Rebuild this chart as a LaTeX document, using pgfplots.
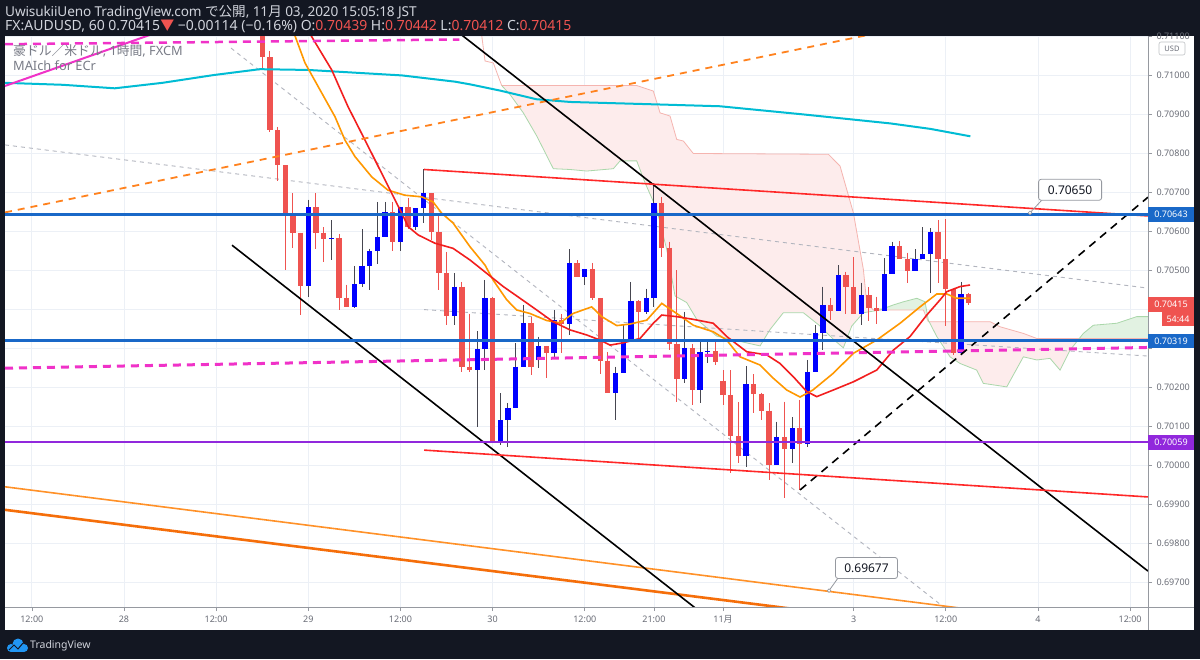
\documentclass[border=0pt]{standalone}
\usepackage{pgfplots}
\pgfplotsset{compat=1.18}
\usepackage{pgfplotstable}
\usepackage{fontspec}
\setmainfont{Noto Sans}
\newfontfamily\cjk{Noto Sans CJK JP}
\definecolor{bgdark}{RGB}{19,23,34}
\definecolor{hdr}{RGB}{209,212,220}
\definecolor{tvred}{RGB}{239,83,80}
\definecolor{bullblue}{RGB}{0,0,255}
\definecolor{bullwick}{RGB}{70,70,80}
\definecolor{gridc}{RGB}{236,240,246}
\definecolor{axisc}{RGB}{150,153,160}
\definecolor{ticktxt}{RGB}{105,108,118}
\definecolor{cyanma}{RGB}{0,188,212}
\definecolor{orangema}{RGB}{255,152,0}
\definecolor{redma}{RGB}{242,30,30}
\definecolor{trendred}{RGB}{255,40,40}
\definecolor{hblue}{RGB}{25,104,200}
\definecolor{hpurple}{RGB}{145,40,220}
\definecolor{magent}{RGB}{240,50,200}
\definecolor{orngdash}{RGB}{255,130,30}
\definecolor{orng1}{RGB}{255,145,40}
\definecolor{orng2}{RGB}{245,110,10}
\definecolor{grayd}{RGB}{178,181,190}
\definecolor{cloudpink}{RGB}{253,236,236}
\definecolor{cloudgreen}{RGB}{226,242,226}
\definecolor{spanB}{RGB}{245,180,175}
\definecolor{spanA}{RGB}{170,215,170}
\definecolor{legtxt}{RGB}{120,123,134}
\definecolor{tvlogo}{RGB}{33,150,243}

\pgfplotstableread{
i O H L C
30 0.71160 0.71200 0.71015 0.71045
31 0.71045 0.71062 0.70855 0.70859
32 0.70859 0.70867 0.70729 0.70769
33 0.70769 0.70769 0.70500 0.70647
34 0.70647 0.70697 0.70558 0.70596
35 0.70596 0.70596 0.70385 0.70459
37 0.70661 0.70697 0.70553 0.70596
38 0.70596 0.70610 0.70520 0.70579
40 0.70582 0.70593 0.70398 0.70430
41 0.70430 0.70463 0.70406 0.70406
47 0.70649 0.70675 0.70548 0.70571
49 0.70662 0.70685 0.70605 0.70611
52 0.70698 0.70698 0.70577 0.70598
53 0.70598 0.70641 0.70449 0.70492
54 0.70492 0.70547 0.70359 0.70383
56 0.70458 0.70470 0.70240 0.70253
57 0.70253 0.70389 0.70240 0.70244
60 0.70428 0.70432 0.70056 0.70061
65 0.70364 0.70381 0.70231 0.70253
67 0.70306 0.70306 0.70223 0.70287
69 0.70372 0.70388 0.70289 0.70362
71 0.70519 0.70526 0.70483 0.70483
73 0.70502 0.70519 0.70423 0.70429
74 0.70429 0.70429 0.70234 0.70268
75 0.70268 0.70291 0.70186 0.70186
79 0.70422 0.70423 0.70323 0.70394
82 0.70671 0.70688 0.70533 0.70558
83 0.70558 0.70573 0.70295 0.70311
84 0.70311 0.70500 0.70163 0.70220
86 0.70301 0.70312 0.70155 0.70193
89 0.70292 0.70323 0.70257 0.70265
90 0.70217 0.70244 0.70155 0.70180
91 0.70180 0.70244 0.69980 0.70075
92 0.70075 0.70161 0.70005 0.70024
94 0.70208 0.70234 0.70133 0.70183
95 0.70183 0.70186 0.70116 0.70140
96 0.70140 0.70159 0.69962 0.70001
98 0.70073 0.70163 0.69916 0.70041
100 0.70095 0.70167 0.69937 0.70055
104 0.70411 0.70428 0.70372 0.70395
106 0.70488 0.70496 0.70389 0.70456
107 0.70456 0.70534 0.70389 0.70389
109 0.70436 0.70456 0.70370 0.70402
110 0.70402 0.70432 0.70362 0.70396
113 0.70562 0.70575 0.70528 0.70528
114 0.70528 0.70545 0.70468 0.70499
118 0.70598 0.70628 0.70466 0.70528
119 0.70528 0.70630 0.70357 0.70453
120 0.70453 0.70453 0.70283 0.70289
122 0.70439 0.70442 0.70412 0.70415
}\bear

\pgfplotstableread{
i O H L C
36 0.70459 0.70681 0.70432 0.70661
39 0.70579 0.70628 0.70526 0.70582
42 0.70406 0.70511 0.70404 0.70464
43 0.70464 0.70605 0.70458 0.70511
44 0.70511 0.70555 0.70449 0.70548
45 0.70548 0.70675 0.70516 0.70584
46 0.70584 0.70675 0.70584 0.70649
48 0.70571 0.70662 0.70548 0.70662
50 0.70611 0.70659 0.70603 0.70659
51 0.70659 0.70758 0.70620 0.70698
55 0.70383 0.70492 0.70359 0.70458
58 0.70244 0.70344 0.70099 0.70297
59 0.70297 0.70475 0.70244 0.70428
61 0.70061 0.70185 0.70052 0.70116
62 0.70116 0.70160 0.70048 0.70146
63 0.70146 0.70313 0.70146 0.70253
64 0.70253 0.70411 0.70253 0.70364
66 0.70270 0.70330 0.70249 0.70306
68 0.70287 0.70398 0.70274 0.70372
70 0.70362 0.70553 0.70334 0.70519
72 0.70483 0.70502 0.70462 0.70502
76 0.70186 0.70253 0.70116 0.70237
77 0.70237 0.70359 0.70237 0.70321
78 0.70321 0.70470 0.70321 0.70422
80 0.70394 0.70453 0.70389 0.70429
81 0.70429 0.70723 0.70406 0.70671
85 0.70220 0.70394 0.70210 0.70301
87 0.70193 0.70321 0.70159 0.70291
88 0.70291 0.70323 0.70263 0.70292
93 0.70024 0.70254 0.69996 0.70208
97 0.70001 0.70112 0.70001 0.70073
99 0.70041 0.70123 0.70005 0.70095
101 0.70055 0.70270 0.70048 0.70240
102 0.70240 0.70359 0.70240 0.70338
103 0.70338 0.70458 0.70295 0.70411
105 0.70395 0.70513 0.70395 0.70488
108 0.70389 0.70468 0.70359 0.70436
111 0.70396 0.70530 0.70396 0.70490
112 0.70490 0.70573 0.70490 0.70562
115 0.70499 0.70553 0.70499 0.70528
116 0.70528 0.70610 0.70528 0.70541
117 0.70541 0.70607 0.70441 0.70598
121 0.70289 0.70470 0.70283 0.70439
}\bull

\begin{document}
\begin{tikzpicture}
% background
\fill[bgdark] (0pt,0pt) rectangle (1200pt,-659pt);
\fill[white] (5pt,-36pt) rectangle (1194pt,-630pt);

\begin{axis}[
  at={(5pt,-607pt)}, anchor=south west,
  scale only axis, width=1143pt, height=571pt,
  xmin=-3.49, xmax=145.33, ymin=0.69637, ymax=0.71100,
  axis line style={draw=none},
  xtick pos=bottom, ytick pos=right, yticklabel pos=right,
  tick align=outside, major tick length=4pt,
  tick style={draw=axisc, line width=0.6pt},
  xtick={0,12,24,36,48,60,72,81,90,107,119,131,143},
  xticklabels={12:00,28,12:00,29,12:00,30,12:00,21:00,11{\cjk 月},3,12:00,4,12:00},
  ytick={0.697,0.698,0.699,0.700,0.701,0.702,0.703,0.704,0.705,0.706,0.707,0.708,0.709,0.710,0.711},
  yticklabels={0.69700,0.69800,0.69900,0.70000,0.70100,0.70200,,,0.70500,0.70600,0.70700,0.70800,0.70900,0.71000,0.71100},
  yticklabel style={font=\fontsize{9}{11}\selectfont, text=ticktxt, xshift=1pt},
  xticklabel style={font=\fontsize{9}{11}\selectfont, text=ticktxt, yshift=-1pt},
  grid=major, major grid style={draw=gridc, line width=0.8pt},
  clip=true,
]
% ---- Ichimoku cloud fills
\addplot[fill=cloudpink, draw=none, forget plot] coordinates {
(61.18,0.70973) (78.76,0.70973) (80.92,0.70959) (81.80,0.70903) (83.10,0.70895) (83.97,0.70835) (84.83,0.70831) (86.13,0.70799) (103.71,0.70797) (105.23,0.70767) (106.97,0.70647) (108.27,0.70502) (108.71,0.70416) (109.57,0.70398)
(108.27,0.70391) (106.76,0.70357) (105.66,0.70301) (104.36,0.70323) (102.63,0.70357) (100.46,0.70391) (97.85,0.70391) (96.12,0.70348) (94.82,0.70306) (89.18,0.70331) (86.58,0.70374) (85.27,0.70417) (83.75,0.70434) (82.67,0.70553) (81.37,0.70656) (79.84,0.70724) (78.76,0.70780) (76.59,0.70780) (75.72,0.70760) (72.25,0.70754) (70.08,0.70758) (67.90,0.70760) (65.74,0.70844) (64.00,0.70903) (62.27,0.70950)
} -- cycle;
\addplot[fill=cloudgreen, draw=none, forget plot] coordinates {
(109.57,0.70398) (112.18,0.70411) (113.48,0.70419) (115.23,0.70428) (116.30,0.70419) (116.6,0.70385) (116.08,0.70398)
} -- cycle;
\addplot[fill=cloudpink, draw=none, forget plot] coordinates {
(116.6,0.70385) (116.73,0.70368) (124.77,0.70368) (126.07,0.70355) (129.10,0.70338) (130.85,0.70325) (136.4,0.70325)
(135.18,0.70295) (133.88,0.70244) (132.58,0.70274) (130.85,0.70270) (129.10,0.70278) (126.94,0.70201) (123.89,0.70210) (123.03,0.70244) (120.86,0.70261) (119.56,0.70278) (117.83,0.70330) (116.73,0.70372)
} -- cycle;
\addplot[fill=cloudgreen, draw=none, forget plot] coordinates {
(136.4,0.70325) (136.91,0.70338) (138.22,0.70359) (141.26,0.70364) (143.87,0.70381) (145.34,0.70381) (145.34,0.70325)
} -- cycle;
% span B
\addplot[spanB, line width=0.8pt, forget plot] coordinates {
(58.49,0.71115) (59.01,0.71036) (60.09,0.71031) (61.18,0.70973) (78.76,0.70973) (80.92,0.70959) (81.80,0.70903) (83.10,0.70895) (83.97,0.70835) (84.83,0.70831) (86.13,0.70799) (103.71,0.70797) (105.23,0.70767) (106.97,0.70647) (108.27,0.70502) (108.71,0.70416) (109.57,0.70398) (116.08,0.70398) (116.73,0.70368) (124.77,0.70368) (126.07,0.70355) (129.10,0.70338) (130.85,0.70325) (145.34,0.70325)
};
% span A
\addplot[spanA, line width=0.8pt, forget plot] coordinates {
(61.18,0.70973) (62.27,0.70950) (64.00,0.70903) (65.74,0.70844) (67.90,0.70760) (70.08,0.70758) (72.25,0.70754) (75.72,0.70760) (76.59,0.70780) (78.76,0.70780) (79.84,0.70724) (81.37,0.70656) (82.67,0.70553) (83.75,0.70434) (85.27,0.70417) (86.58,0.70374) (89.18,0.70331) (94.82,0.70306) (96.12,0.70348) (97.85,0.70391) (100.46,0.70391) (102.63,0.70357) (104.36,0.70323) (105.66,0.70301) (106.76,0.70357) (108.27,0.70391) (110.44,0.70398) (112.18,0.70411) (113.48,0.70419) (115.23,0.70428) (116.30,0.70419) (116.73,0.70372) (117.83,0.70330) (119.56,0.70278) (120.86,0.70261) (123.03,0.70244) (123.89,0.70210) (126.94,0.70201) (129.10,0.70278) (130.85,0.70270) (132.58,0.70274) (133.88,0.70244) (135.18,0.70295) (136.91,0.70338) (138.22,0.70359) (141.26,0.70364) (143.87,0.70381) (145.34,0.70381)
};
% gray dashed lines
\addplot[grayd, line width=0.9pt, dash pattern=on 4pt off 4pt, forget plot] coordinates {(25.94,0.71069) (119.5,0.69625)};
\addplot[grayd, line width=0.9pt, dash pattern=on 4pt off 4pt, forget plot] coordinates {(-3.49,0.70821) (145.33,0.70454)};
\addplot[grayd, line width=0.9pt, dash pattern=on 4pt off 4pt, forget plot] coordinates {(51.07,0.70399) (145.33,0.70280)};

% ---- candles: wicks
\addplot[forget plot, draw=none, mark=none, error bars/.cd, y dir=minus, y explicit, error mark=none,
  error bar style={line width=1pt, draw=tvred, solid}]
  table[x=i, y=H, y error minus expr=\thisrow{H}-\thisrow{L}] {\bear};
\addplot[forget plot, draw=none, mark=none, error bars/.cd, y dir=minus, y explicit, error mark=none,
  error bar style={line width=1pt, draw=bullwick, solid}]
  table[x=i, y=H, y error minus expr=\thisrow{H}-\thisrow{L}] {\bull};
% bodies
\addplot[forget plot, draw=none, mark=none, error bars/.cd, y dir=minus, y explicit, error mark=none,
  error bar style={line width=5.3pt, draw=tvred, solid}]
  table[x=i, y=O, y error minus expr=\thisrow{O}-\thisrow{C}] {\bear};
\addplot[forget plot, draw=none, mark=none, error bars/.cd, y dir=minus, y explicit, error mark=none,
  error bar style={line width=5.3pt, draw=bullblue, solid}]
  table[x=i, y=C, y error minus expr=\thisrow{C}-\thisrow{O}] {\bull};

% ---- moving averages
\addplot[cyanma, line width=2pt, forget plot] coordinates {
(-3.49,0.70980) (4,0.70975) (10.8,0.70966) (17,0.70980) (23.7,0.71000) (29.7,0.71015) (36,0.71013) (48.2,0.70999) (55.1,0.70983) (57.1,0.70976) (61,0.70960) (65.7,0.70938) (70.1,0.70931) (80.9,0.70925) (89.6,0.70920) (100.5,0.70899) (111.8,0.70876) (117,0.70862) (122.2,0.70843)
};
\addplot[orangema, line width=1.6pt, forget plot] coordinates {
(33.9,0.71120) (35.57,0.71031) (37.75,0.70954) (39.48,0.70893) (40.78,0.70833) (42.08,0.70791) (44.26,0.70739) (46.38,0.70705) (48.59,0.70692) (50.77,0.70688) (52.24,0.70675) (53.37,0.70646) (54.84,0.70621) (57.06,0.70560) (59.01,0.70513) (60.05,0.70475) (61.84,0.70424) (63.14,0.70398) (64.87,0.70389) (67.04,0.70371) (68.78,0.70365) (70.47,0.70389) (72.9,0.70406) (74.2,0.70381) (76.16,0.70358) (77.9,0.70362) (80.07,0.70372) (82.02,0.70415) (83.97,0.70389) (86.13,0.70359) (88.74,0.70342) (90.48,0.70321) (92.21,0.70278) (94.82,0.70257) (96.55,0.70223) (98.29,0.70193) (100.03,0.70175) (101.7,0.70193) (104.36,0.70236) (106.97,0.70287) (110.01,0.70321) (113.05,0.70364) (115.65,0.70406) (117.83,0.70439) (119.13,0.70439) (120.43,0.70428) (122.16,0.70428)
};
\addplot[redma, line width=1.6pt, forget plot] coordinates {
(35.7,0.71128) (36.45,0.71098) (39.05,0.71013) (41.17,0.70919) (43.39,0.70833) (45.56,0.70748) (47.29,0.70680) (48.17,0.70646) (49.02,0.70611) (50.33,0.70590) (52.5,0.70569) (54.84,0.70556) (57.06,0.70526) (59.23,0.70492) (61.39,0.70458) (63.57,0.70428) (65.74,0.70398) (67.86,0.70368) (70.08,0.70347) (72.25,0.70334) (73.98,0.70321) (75.29,0.70308) (77.02,0.70314) (79.19,0.70325) (80.92,0.70364) (82.02,0.70385) (83.97,0.70381) (86.13,0.70374) (88.74,0.70364) (90.48,0.70330) (93.09,0.70291) (95.69,0.70283) (97.42,0.70261) (99.15,0.70227) (100.9,0.70189) (102.2,0.70176) (104.36,0.70193) (106.97,0.70214) (110.01,0.70244) (112.17,0.70295) (114.35,0.70330) (116.52,0.70385) (118.26,0.70424) (119.13,0.70445) (120.86,0.70458) (122.16,0.70462)
};

% ---- drawings
\addplot[magent, line width=2pt, forget plot] coordinates {(-3.49,0.70972) (18.0,0.71121)};
\addplot[magent, line width=2.5pt, dash pattern=on 8pt off 6pt, forget plot] coordinates {(-3.49,0.71079) (55.66,0.71091)};
\addplot[magent, line width=3pt, dash pattern=on 8pt off 6pt, forget plot] coordinates {(-3.49,0.70249) (145.33,0.70302)};
\addplot[orngdash, line width=1.8pt, dash pattern=on 7pt off 6pt, forget plot] coordinates {(-3.49,0.70648) (110.45,0.71109)};
\addplot[orng1, line width=1.6pt, forget plot] coordinates {(-3.49,0.69945) (122.2,0.69631)};
\addplot[orng2, line width=2.6pt, forget plot] coordinates {(-3.49,0.69886) (100.03,0.69630)};
\addplot[black, line width=1.6pt, forget plot] coordinates {(26.07,0.70564) (87.0,0.69625)};
\addplot[black, line width=1.6pt, forget plot] coordinates {(55.1,0.71116) (145.33,0.69729)};
\addplot[black, line width=1.6pt, dash pattern=on 8pt off 6pt, forget plot] coordinates {(100.03,0.69937) (145.33,0.70687)};
\addplot[trendred, line width=1.6pt, forget plot] coordinates {(51.07,0.70758) (145.33,0.70639)};
\addplot[trendred, line width=1.6pt, forget plot] coordinates {(51.07,0.70039) (145.33,0.69919)};
\addplot[hblue, line width=3pt, forget plot] coordinates {(-3.49,0.70643) (145.33,0.70643)};
\addplot[hblue, line width=3pt, forget plot] coordinates {(-3.49,0.70319) (145.33,0.70319)};
\addplot[hpurple, line width=2pt, forget plot] coordinates {(-3.49,0.70059) (145.33,0.70059)};

% ---- callouts
\draw[axisc, line width=0.8pt] (axis cs:129.97,0.70647) -- (axis cs:131.53,0.70680);
\draw[axisc, fill=white, line width=0.6pt] (axis cs:129.97,0.70647) circle (1.8pt);
\node[draw=axisc, fill=white, rounded corners=2.5pt, line width=0.8pt, minimum width=63pt, minimum height=21pt, inner sep=0pt, font=\fontsize{12}{14}\selectfont, text=bgdark] at (axis cs:135.19,0.70706) {0.70650};
\draw[axisc, line width=0.8pt] (axis cs:103.8,0.69679) -- (axis cs:105.0,0.69712);
\draw[axisc, fill=white, line width=0.6pt] (axis cs:103.8,0.69679) circle (1.8pt);
\node[draw=axisc, fill=white, rounded corners=2.5pt, line width=0.8pt, minimum width=62pt, minimum height=21pt, inner sep=0pt, font=\fontsize{12}{14}\selectfont, text=bgdark] at (axis cs:108.68,0.69737) {0.69677};
\end{axis}

% axis lines
\draw[axisc, line width=0.8pt] (5pt,-607pt) -- (1194pt,-607pt);
\draw[axisc, line width=0.8pt] (1148pt,-36pt) -- (1148pt,-630pt);

% price tags
\fill[hblue] (1148pt,-207pt) rectangle (1194pt,-221.6pt);
\node[text=white, font=\fontsize{9}{11}\selectfont, inner sep=0pt] at (1171pt,-214.3pt) {0.70643};
\fill[tvred] (1148pt,-297pt) rectangle (1194pt,-311.6pt);
\node[text=white, font=\fontsize{9}{11}\selectfont, inner sep=0pt] at (1171pt,-304.3pt) {0.70415};
\fill[tvred] (1162pt,-312.4pt) rectangle (1194pt,-325.5pt);
\node[text=white, font=\fontsize{9}{11}\selectfont, inner sep=0pt] at (1178pt,-319pt) {54:44};
\fill[hblue] (1148pt,-333.7pt) rectangle (1194pt,-348.3pt);
\node[text=white, font=\fontsize{9}{11}\selectfont, inner sep=0pt] at (1171pt,-341pt) {0.70319};
\fill[hpurple] (1148pt,-435pt) rectangle (1194pt,-449.6pt);
\node[text=white, font=\fontsize{9}{11}\selectfont, inner sep=0pt] at (1171pt,-442.3pt) {0.70059};
% USD
\draw[axisc!60, rounded corners=2pt, line width=0.6pt] (1159pt,-42pt) rectangle (1185pt,-55pt);
\node[text=ticktxt, font=\fontsize{7.5}{9}\selectfont, inner sep=0pt] at (1172pt,-48.5pt) {USD};

% header
\node[anchor=base west, inner sep=0pt, text=hdr, font=\fontsize{13.6}{15}\selectfont\addfontfeature{LetterSpace=-1}] at (5pt,-16.7pt) {UwisukiiUeno TradingView.com {\cjk で公開}, 11{\cjk 月} 03, 2020 15:05:18 JST};
\node[anchor=base west, inner sep=0pt, text=hdr, font=\fontsize{14}{15}\selectfont] at (5pt,-30.7pt) {FX:AUDUSD, 60 0.70415{\cjk\textcolor{tvred}{▼}} −0.00114 (−0.16\%) O:\textcolor{tvred}{0.70439} H:\textcolor{tvred}{0.70442} L:\textcolor{tvred}{0.70412} C:\textcolor{tvred}{0.70415}};

% legend text
\node[anchor=west, inner sep=0pt, text=legtxt, font=\fontsize{12.8}{14}\selectfont] at (13pt,-51pt) {{\cjk 豪ドル／米ドル}, 1{\cjk 時間}, FXCM};
\node[anchor=west, inner sep=0pt, text=legtxt, font=\fontsize{12.8}{14}\selectfont] at (13pt,-66pt) {MAIch for ECr};

% footer
\fill[tvlogo] (11pt,-648pt) circle (4pt);
\fill[tvlogo] (18pt,-644pt) circle (5.5pt);
\fill[tvlogo] (24pt,-648pt) circle (4pt);
\fill[tvlogo] (11pt,-652pt) rectangle (24pt,-646pt);
\draw[bgdark, line width=1pt] (9pt,-650pt) -- (14pt,-645pt) -- (18pt,-649pt) -- (23pt,-643pt);
\node[anchor=west, inner sep=0pt, text=hdr, font=\fontsize{10.5}{13}\selectfont] at (30pt,-645.5pt) {TradingView};
\end{tikzpicture}
\end{document}
